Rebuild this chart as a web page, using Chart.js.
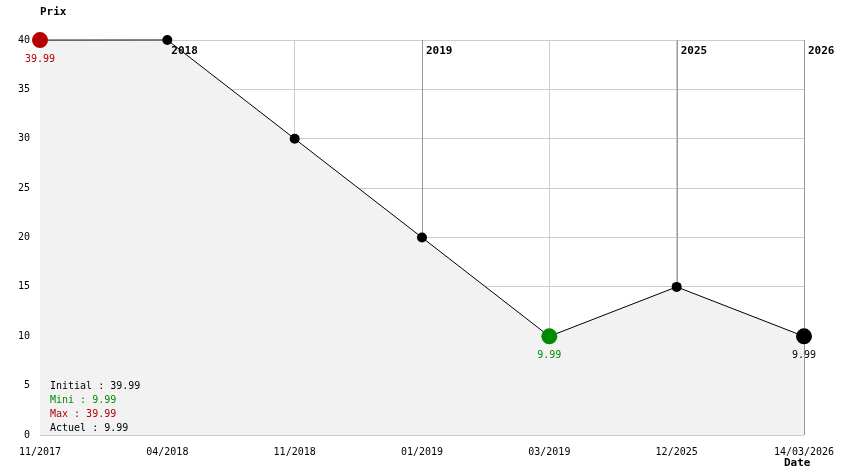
<!DOCTYPE html>
<html>
<head>
<meta charset="utf-8">
<script src="https://cdn.jsdelivr.net/npm/chart.js@4/dist/chart.umd.min.js"></script>
<style>
  body { margin: 0; background: #fff; }
  #wrap { width: 844px; height: 474px; }
</style>
</head>
<body>
<div id="wrap"><canvas id="myChart" width="844" height="474"></canvas></div>
<script>
// chart data
let dates = ["11/2017", "04/2018", "11/2018", "01/2019", "03/2019", "12/2025", "14/03/2026"];
let prices = [39.99, 40, 30, 20, 9.99, 15, 9.99];
let yearMarks = [[1, "2018"], [3, "2019"], [5, "2025"], [6, "2026"]];
let summary = ["Initial : 39.99", "Mini : 9.99", "Max : 39.99", "Actuel : 9.99"];

let red = "#b40000", green = "#008c00";
let mono = "'DejaVu Sans Mono', 'Liberation Mono', monospace";

let pointColors = ["", "#000", "#000", "#000", "", "#000", "#000"];
pointColors[0] = red;
pointColors[4] = green;
let pointSizes = [8, 5, 5, 5, 8, 5, 8];

// year lines go under the fill, labels just above it
let yearPlugin = {
  id: 'years',
  beforeDatasetsDraw(chart) {
    let ctx = chart.ctx, x = chart.scales.x, a = chart.chartArea;
    ctx.save();
    ctx.strokeStyle = "#999";
    ctx.lineWidth = 1;
    yearMarks.forEach(m => {
      let px = Math.round(x.getPixelForValue(m[0])) + 0.5;
      ctx.beginPath();
      ctx.moveTo(px, a.top);
      ctx.lineTo(px, a.bottom);
      ctx.stroke();
    });
    ctx.restore();
  },
  beforeDatasetDraw(chart) {
    let ctx = chart.ctx, x = chart.scales.x, a = chart.chartArea;
    ctx.save();
    ctx.font = "bold 11px " + mono;
    ctx.fillStyle = "#000";
    ctx.textBaseline = "middle";
    yearMarks.forEach(m => {
      ctx.fillText(m[1], x.getPixelForValue(m[0]) + 4, a.top + 11);
    });
    ctx.restore();
  },
  afterDatasetsDraw(chart) {
    let ctx = chart.ctx, x = chart.scales.x, y = chart.scales.y, a = chart.chartArea;
    ctx.save();
    ctx.font = "10px " + mono;
    ctx.textAlign = "center";
    ctx.textBaseline = "middle";
    [[0, red], [4, green], [6, "#000"]].forEach(p => {
      ctx.fillStyle = p[1];
      ctx.fillText(prices[p[0]].toFixed(2), x.getPixelForValue(p[0]), y.getPixelForValue(prices[p[0]]) + 19);
    });
    // summary box
    ctx.textAlign = "left";
    let cols = ["#000", green, red, "#000"];
    summary.forEach((s, i) => {
      ctx.fillStyle = cols[i];
      ctx.fillText(s, a.left + 10, a.bottom - 49 + i * 14);
    });
    // axis titles
    ctx.font = "bold 11px " + mono;
    ctx.fillStyle = "#000";
    ctx.fillText("Prix", 40, 12);
    ctx.fillText("Date", 784, 463);
    ctx.restore();
  }
};

let ctx = document.getElementById('myChart').getContext('2d');

let myChart = new Chart(ctx, {
  type: 'line',
  data: {
    labels: dates,
    datasets: [{
      data: prices,
      borderColor: "#000",
      borderWidth: 1,
      tension: 0,
      fill: 'origin',
      backgroundColor: "#f2f2f2",
      pointRadius: pointSizes,
      pointBackgroundColor: pointColors,
      pointBorderColor: pointColors,
      pointBorderWidth: 0,
      clip: false
    }]
  },
  options: {
    responsive: false,
    animation: false,
    events: [],
    layout: { padding: { top: 40, right: 40, left: 0, bottom: 0 } },
    plugins: { legend: { display: false }, tooltip: { enabled: false } },
    scales: {
      x: {
        offset: false,
        border: { display: false },
        grid: { color: "#ccc", drawTicks: false },
        ticks: {
          color: "#000", padding: 11, autoSkip: false, maxRotation: 0,
          font: { family: mono, size: 10 }
        },
        afterFit(s) { s.height = 39; s.paddingLeft = 0; s.paddingRight = 0; }
      },
      y: {
        min: 0,
        max: 40,
        border: { display: false },
        grid: { color: "#ccc", drawTicks: false },
        ticks: {
          stepSize: 5, color: "#000", padding: 10,
          font: { family: mono, size: 10 }
        },
        afterFit(s) { s.width = 40; s.paddingTop = 0; s.paddingBottom = 0; }
      }
    }
  },
  plugins: [yearPlugin]
});
</script>
</body>
</html>
